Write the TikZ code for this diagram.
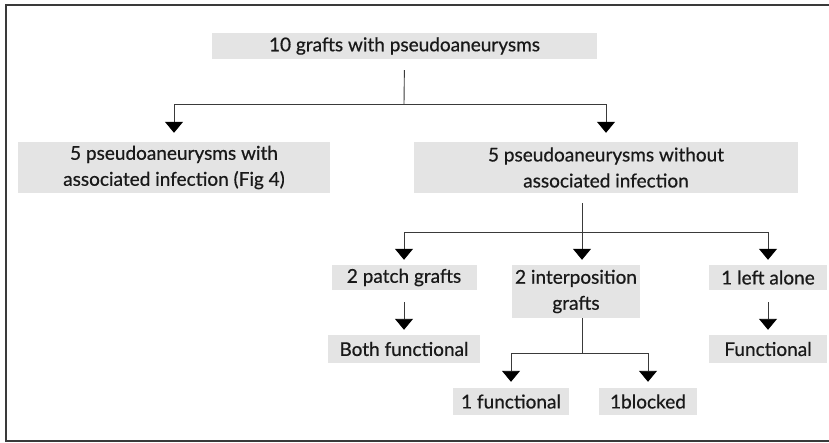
\documentclass[tikz,border=0pt]{standalone}
\usepackage{fontspec}
\setmainfont{Lato}[UprightFeatures={FakeBold=0.6}]
\usetikzlibrary{arrows.meta,positioning}
\definecolor{shade}{HTML}{E4E4E4}
\definecolor{ink}{HTML}{3A3A3A}
\tikzset{
  box/.style={fill=shade,align=center,text=black!90,font=\fontsize{19}{26}\selectfont,inner sep=0pt},
  link/.style={draw=ink,line width=0.9pt},
  arr/.style={link,-{Triangle[width=18pt,length=11pt,color=black]}},
}
\begin{document}
\begin{tikzpicture}[x=1pt,y=-1pt]
  \useasboundingbox (0,0) rectangle (829,443);
  \draw[line width=1.3pt,draw=ink] (6,5) rectangle (845,441);
  % boxes
  \node[box,minimum width=385pt,minimum height=26pt] (top) at (404.5,46) {10 grafts with pseudoaneurysms};
  \node[box,minimum width=312pt,minimum height=51pt] (inf) at (174,167.5) {5 pseudoaneurysms with\\associated infection (Fig 4)};
  \node[box,minimum width=384pt,minimum height=51pt] (noinf) at (606,167.5) {5 pseudoaneurysms without\\associated infection};
  \node[box,minimum width=145pt,minimum height=25pt] (patch) at (404,277.5) {2 patch grafts};
  \node[box,minimum width=128pt,minimum height=53pt] (interp) at (576,291.5) {2 interposition\\grafts};
  \node[box,minimum width=118pt,minimum height=25pt] (alone) at (768,277.5) {1 left alone};
  \node[box,minimum width=152pt,minimum height=28pt] (both) at (404,349) {Both functional};
  \node[box,minimum width=118pt,minimum height=28pt] (func) at (768,349) {Functional};
  \node[box,minimum width=116pt,minimum height=27pt] (one) at (511,401.5) {1 functional};
  \node[box,minimum width=98pt,minimum height=27pt] (blk) at (648,401.5) {1blocked};
  % connectors
  \coordinate (j1) at (404,104);
  \draw[link,shorten <=11pt] (top.south) -- (j1);
  \draw[arr,shorten >=9pt] (j1) -| (inf.north);
  \draw[arr,shorten >=9pt] (j1) -| (noinf.north);
  \coordinate (j2) at (582,232);
  \draw[link,shorten <=10pt] (noinf.south -| j2) -- (j2);
  \draw[arr,shorten >=5pt] (j2) -| (patch.north);
  \draw[arr,shorten >=5pt] (j2) -- (interp.north -| j2);
  \draw[arr,shorten >=5pt] (j2) -| (alone.north);
  \draw[arr,shorten <=12pt,shorten >=5pt] (patch) -- (both);
  \draw[arr,shorten <=12pt,shorten >=5pt] (alone) -- (func);
  \coordinate (j3) at (582,353);
  \draw[link] (interp.south -| j3) -- (j3);
  \draw[arr,shorten >=6pt] (j3) -| (one.north);
  \draw[arr,shorten >=6pt] (j3) -| (blk.north);
\end{tikzpicture}
\end{document}
